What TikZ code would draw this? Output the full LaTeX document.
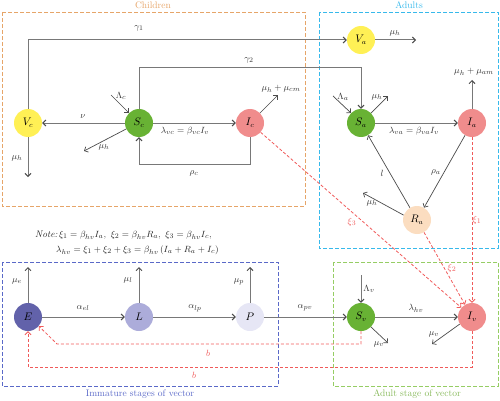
\documentclass[tikz,border=0pt]{standalone}
\usetikzlibrary{arrows.meta}
\definecolor{linegray}{RGB}{120,120,120}
\definecolor{tipgray}{RGB}{75,75,75}
\definecolor{cchild}{RGB}{230,165,105}
\definecolor{cadult}{RGB}{55,185,235}
\definecolor{cimm}{RGB}{90,105,200}
\definecolor{cvec}{RGB}{150,205,100}
\definecolor{cyel}{RGB}{255,240,85}
\definecolor{cgreen}{RGB}{104,178,52}
\definecolor{cpink}{RGB}{240,140,140}
\definecolor{cpeach}{RGB}{251,221,192}
\definecolor{cE}{RGB}{98,98,170}
\definecolor{cL}{RGB}{172,172,218}
\definecolor{cP}{RGB}{230,230,245}
\definecolor{cred}{RGB}{240,90,90}
\begin{document}
\begin{tikzpicture}[x=1pt,y=-1pt,
  font=\fontsize{9.5}{11}\selectfont,
  comp/.style={circle, minimum size=28pt, inner sep=0pt, font=\fontsize{10.5}{12}\selectfont},
  flow/.style={draw=linegray, line width=1pt, -{Straight Barb[length=3pt,width=6pt,color=tipgray]}},
  thin flow/.style={draw=tipgray, line width=0.7pt, -{Straight Barb[length=3pt,width=6pt]}},
  redflow/.style={draw=cred, line width=0.8pt, dash pattern=on 3pt off 2pt, -{Straight Barb[length=3pt,width=6pt]}},
  boxline/.style={line width=0.9pt, dash pattern=on 4pt off 2pt},
  lab/.style={inner sep=1pt, text=black!80},
  redlab/.style={inner sep=1pt, text=cred}
]
\useasboundingbox (0,0) rectangle (500,401);

% boxes
\draw[boxline, draw=cchild] (2,12) rectangle (305,206);
\draw[boxline, draw=cadult] (319,12) rectangle (498,248);
\draw[boxline, draw=cimm] (2,262) rectangle (278,386);
\draw[boxline, draw=cvec] (333,262) rectangle (498,386);
\node[text=cchild] (tchild) at (153,5) {Children};
\node[text=cadult] (tadult) at (409,5) {Adults};
\node[text=cimm] (timm) at (140,394) {Immature stages of vector};
\node[text=cvec!90!black] (tvec) at (417,394) {Adult stage of vector};

% compartments
\node[comp, fill=cyel] (Vc) at (28,123) {$V_c$};
\node[comp, fill=cgreen] (Sc) at (139,123) {$S_c$};
\node[comp, fill=cpink] (Ic) at (250,123) {$I_c$};
\node[comp, fill=cyel] (Va) at (361,40) {$V_a$};
\node[comp, fill=cgreen] (Sa) at (361,123) {$S_a$};
\node[comp, fill=cpink] (Ia) at (472,123) {$I_a$};
\node[comp, fill=cpeach] (Ra) at (417,220) {$R_a$};
\node[comp, fill=cE] (E) at (28,317) {$E$};
\node[comp, fill=cL] (L) at (139,317) {$L$};
\node[comp, fill=cP] (P) at (250,317) {$P$};
\node[comp, fill=cgreen] (Sv) at (361,317) {$S_v$};
\node[comp, fill=cpink] (Iv) at (472,317) {$I_v$};

% free ends
\coordinate (muVc) at (28,177);
\coordinate (LamC) at (111,95);
\coordinate (muSc) at (84,151);
\coordinate (muIc) at (278,95);
\coordinate (muVa) at (416,40);
\coordinate (LamA) at (333,96);
\coordinate (muSa) at (388,96);
\coordinate (muIa) at (472,80);
\coordinate (muRa) at (363,193);
\coordinate (muE) at (28,267);
\coordinate (muL) at (139,267);
\coordinate (muP) at (250,267);
\coordinate (LamV) at (361,275);
\coordinate (muSv) at (388,343);
\coordinate (muIv) at (432,344);
\coordinate (g2c) at (139,68);
\coordinate (rcc) at (250,164);
\coordinate (b1a) at (361,344);
\coordinate (b1b) at (57,344);
\coordinate (b2a) at (472,367);

% children flows
\draw[flow] (Vc.north) |- (Va.west);
\node[lab] (lg1) at (139,28) {$\gamma_1$};
\draw[flow] (Sc.north) -- (g2c) -| (Sa.north);
\node[lab] (lg2) at (249,60) {$\gamma_2$};
\draw[flow] (Sc.west) -- (Vc.east);
\node[lab] (lnu) at (83,117) {$\nu$};
\draw[flow] (Vc.south) -- (muVc);
\node[lab] (lmuVc) at (17,158) {$\mu_h$};
\draw[thin flow] (LamC) -- (Sc.135);
\node[lab] (lLamC) at (121,96) {$\Lambda_c$};
\draw[thin flow] (Sc.205) -- (muSc);
\node[lab] (lmuSc) at (104,147) {$\mu_h$};
\draw[flow] (Sc.east) -- (Ic.west);
\node[lab] (llvc) at (185,131) {$\lambda_{vc}=\beta_{vc}I_v$};
\draw[flow] (Ic.south) -- (rcc) -| (Sc.south);
\node[lab] (lrc) at (194,173) {$\rho_c$};
\draw[thin flow] (Ic.45) -- (muIc);
\node[lab] (lmuIc) at (281,89) {$\mu_h+\mu_{cm}$};

% adult flows
\draw[flow] (Va.east) -- (muVa);
\node[lab] (lmuVa) at (395,33) {$\mu_h$};
\draw[thin flow] (LamA) -- (Sa.135);
\node[lab] (lLamA) at (343,97) {$\Lambda_a$};
\draw[thin flow] (Sa.45) -- (muSa);
\node[lab] (lmuSa) at (377,97) {$\mu_h$};
\draw[flow] (Sa.east) -- (Ia.west);
\node[lab] (llva) at (414,131) {$\lambda_{va}=\beta_{va}I_v$};
\draw[flow] (Ia.north) -- (muIa);
\node[lab] (lmuIa) at (474,72) {$\mu_h+\mu_{am}$};
\draw[thin flow] (Ia) -- (Ra);
\node[lab] (lra) at (436,172) {$\rho_a$};
\draw[thin flow] (Ra) -- (Sa);
\node[lab] (ll) at (382,173) {$l$};
\draw[thin flow] (Ra.160) -- (muRa);
\node[lab] (lmuRa) at (372,203) {$\mu_h$};

% infection of vectors
\draw[redflow] (Ia.south) -- (Iv.north);
\node[redlab] (lxi1) at (477,220) {$\xi_1$};
\draw[redflow] (Ra) -- (Iv);
\node[redlab] (lxi2) at (452,268) {$\xi_2$};
\draw[redflow] (Ic) -- (Iv);
\node[redlab] (lxi3) at (352,222) {$\xi_3$};

% note
\node[anchor=west, inner sep=0pt, text=black!85] (note1) at (35,235) {\textit{Note:}\,$\xi_1=\beta_{hv}I_a,\ \xi_2=\beta_{hv}R_a,\ \xi_3=\beta_{hv}I_c,$};
\node[anchor=west, inner sep=0pt, text=black!85] (note2) at (56,250) {$\lambda_{hv}=\xi_1+\xi_2+\xi_3=\beta_{hv}\,(I_a+R_a+I_c)$};

% vector flows
\draw[flow] (E.north) -- (muE);
\node[lab] (lmuE) at (17,281) {$\mu_e$};
\draw[flow] (L.north) -- (muL);
\node[lab] (lmuL) at (128,280) {$\mu_l$};
\draw[flow] (P.north) -- (muP);
\node[lab] (lmuP) at (239,282) {$\mu_p$};
\draw[flow] (E.east) -- (L.west);
\node[lab] (lael) at (83,308) {$\alpha_{el}$};
\draw[flow] (L.east) -- (P.west);
\node[lab] (lalp) at (195,308) {$\alpha_{lp}$};
\draw[flow] (P.east) -- (Sv.west);
\node[lab] (lapv) at (305,308) {$\alpha_{pv}$};
\draw[flow] (LamV) -- (Sv.north);
\node[lab] (lLamV) at (369,289) {$\Lambda_v$};
\draw[flow] (Sv.east) -- (Iv.west);
\node[lab] (llhv) at (416,308) {$\lambda_{hv}$};
\draw[thin flow] (Sv.-45) -- (muSv);
\node[lab] (lmuSv) at (379,344) {$\mu_v$};
\draw[thin flow] (Iv.210) -- (muIv);
\node[lab] (lmuIv) at (434,334) {$\mu_v$};

% birth of eggs
\draw[redflow] (Sv.south) -- (b1a) -- (b1b) -- (E.-40);
\node[redlab] (lb1) at (208,353) {$b$};
\draw[redflow] (Iv.south) -- (b2a) -| (E.south);
\node[redlab] (lb2) at (194,375) {$b$};
\end{tikzpicture}
\end{document}
